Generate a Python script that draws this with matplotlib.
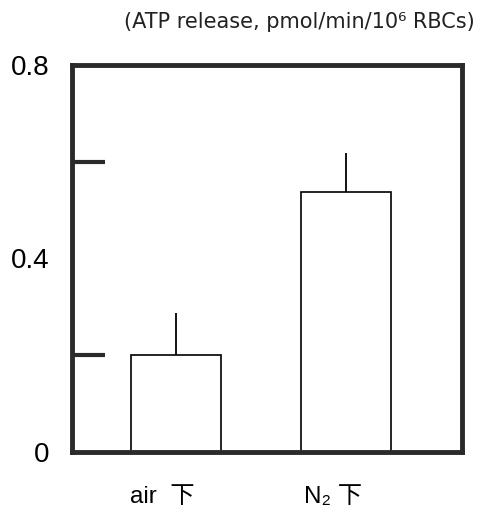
import numpy as np
import matplotlib
matplotlib.use("Agg")
import matplotlib.pyplot as plt

plt.rcParams['font.family'] = ['Liberation Sans', 'DejaVu Sans', 'Noto Sans CJK JP']

# data
conditions = ["air  下", "N₂ 下"]
atp_release = [0.200, 0.538]
sem_upper = [0.087, 0.079]

fig = plt.figure(figsize=(4.82, 5.18), dpi=100)
ax = fig.add_axes([0.149, 0.127, 0.810, 0.748])

x = np.arange(len(conditions))
ax.bar(x, atp_release, width=0.53, color='white', edgecolor='black', linewidth=1.2, zorder=2)
ax.errorbar(x, atp_release, yerr=[np.zeros(len(x)), sem_upper], fmt='none',
            ecolor='black', elinewidth=1.3, capsize=0, zorder=3)

ax.set_xlim(-0.612, 1.682)
ax.set_ylim(0, 0.8)

for side in ['left', 'right', 'top', 'bottom']:
    ax.spines[side].set_linewidth(3.5)
    ax.spines[side].set_color('#2a2a2a')

ax.set_yticks([0, 0.4, 0.8])
ax.set_yticklabels(['0', '0.4', '0.8'], fontsize=20)
ax.set_yticks([0.2, 0.4, 0.6], minor=True)
ax.tick_params(axis='y', which='major', length=0, pad=16)
ax.tick_params(axis='y', which='minor', direction='in', length=24, width=3, color='#2a2a2a')

ax.set_xticks(x - 0.08)
ax.set_xticklabels(conditions, fontsize=17.5)
ax.tick_params(axis='x', length=0, pad=24)

fig.text(0.985, 0.958, "(ATP release, pmol/min/10⁶ RBCs)", fontsize=15,
         family=['DejaVu Sans', 'Noto Sans CJK JP'],
         ha='right', va='center', color='#222222')

fig.savefig("out.png", dpi=100)
